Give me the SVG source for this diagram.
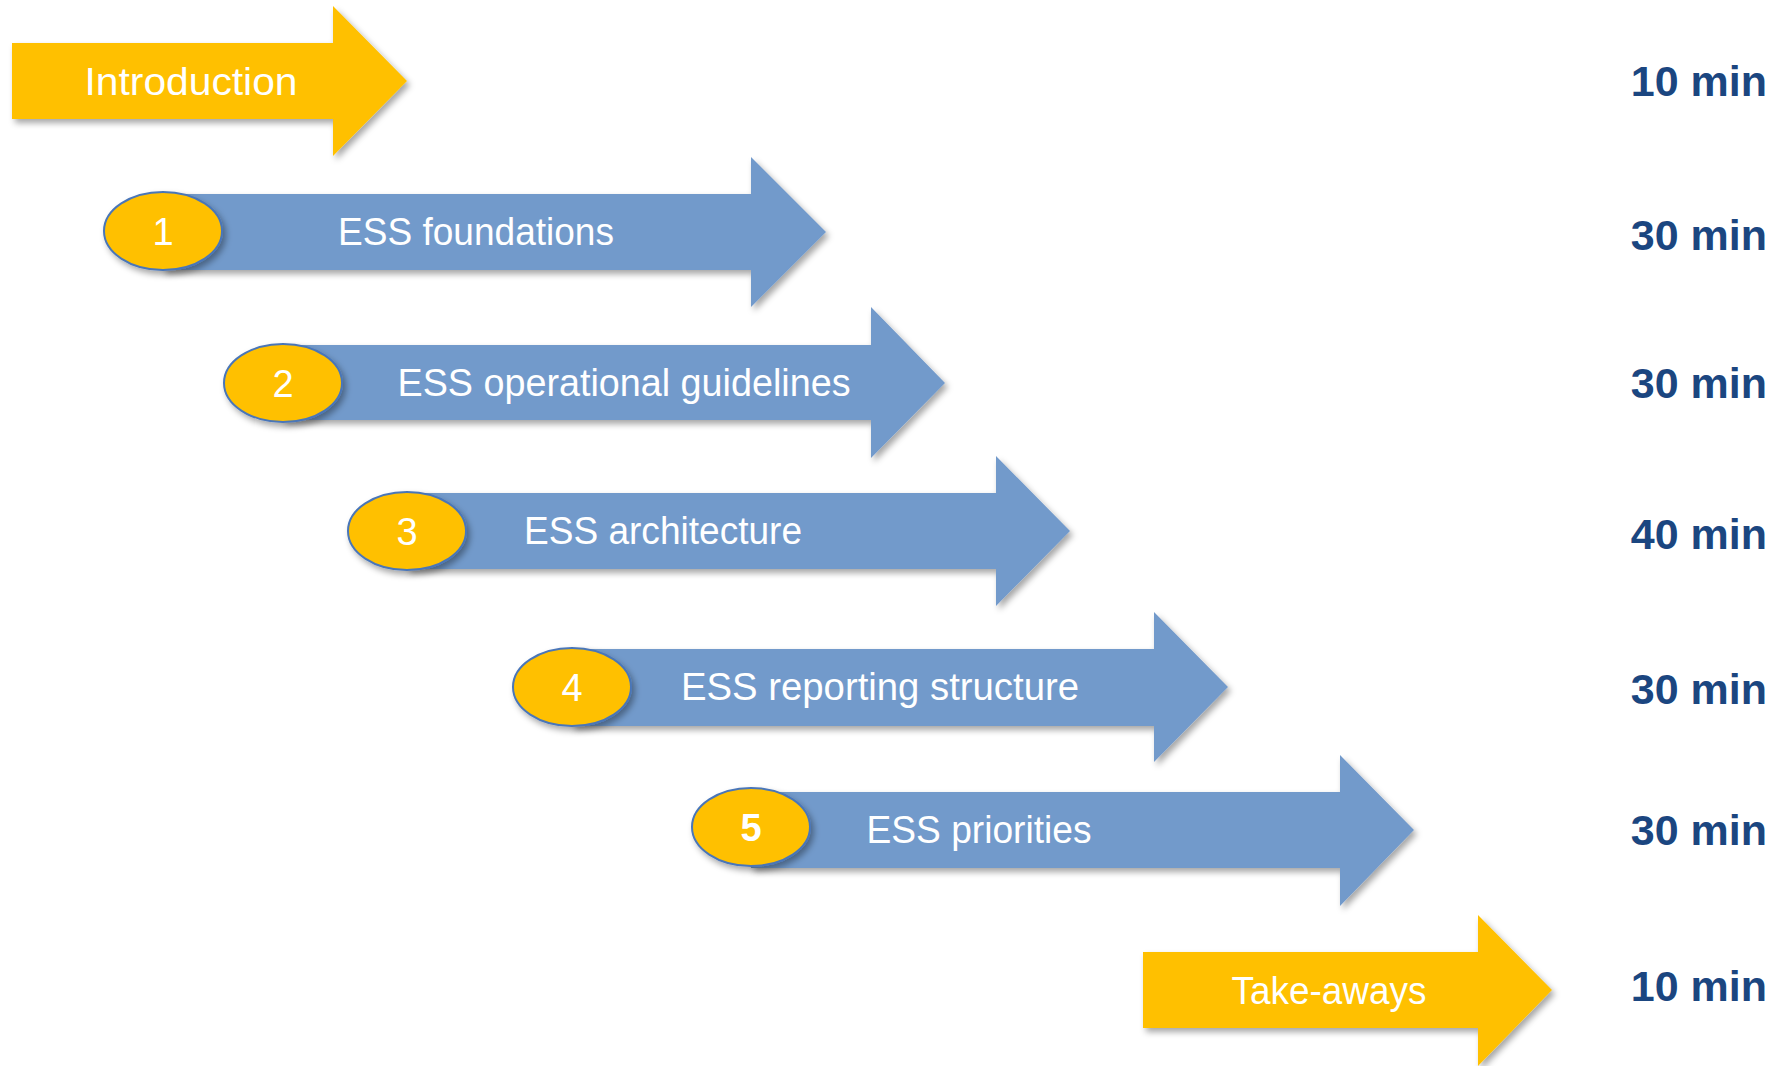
<svg xmlns="http://www.w3.org/2000/svg" width="1789" height="1066" viewBox="0 0 1789 1066">
<defs>
<filter id="sh" x="-10%" y="-20%" width="130%" height="150%">
<feDropShadow dx="3" dy="4" stdDeviation="3" flood-color="#000" flood-opacity="0.35"/>
</filter>
<style>
.y{fill:#FFC000;filter:url(#sh)}
.b{fill:#729ACB;filter:url(#sh)}
.e{fill:#FFC000;stroke:#4A76B8;stroke-width:2;filter:url(#sh)}
.lbl{font-family:"Liberation Sans",Arial,sans-serif;font-size:38px;fill:#fff;text-anchor:middle}
.num{font-family:"Liberation Sans",Arial,sans-serif;font-size:38px;fill:#fff;text-anchor:middle}
.tm{font-family:"Liberation Sans",Arial,sans-serif;font-size:43px;font-weight:bold;fill:#1B4680;text-anchor:end}
</style>
</defs>
<rect width="1789" height="1066" fill="#fff"/>
<g id="intro">
<path class="y" d="M12,43 H333 V6 L407,81 L333,156 V119 H12 Z"/>
<text class="lbl" x="191" y="95" textLength="213" lengthAdjust="spacingAndGlyphs">Introduction</text>
</g>
<g id="step1">
<path class="b" d="M163,194 H751 V157 L826,232 L751,307 V270 H163 Z"/>
<ellipse class="e" cx="163" cy="231" rx="59" ry="39"/>
<text class="num" x="163" y="245">1</text>
<text class="lbl" x="476" y="245" textLength="276" lengthAdjust="spacingAndGlyphs">ESS foundations</text>
</g>
<g id="step2">
<path class="b" d="M283,345 H871 V307 L945,383 L871,458 V420 H283 Z"/>
<ellipse class="e" cx="283" cy="383" rx="59" ry="39"/>
<text class="num" x="283" y="397">2</text>
<text class="lbl" x="624" y="396" textLength="453" lengthAdjust="spacingAndGlyphs">ESS operational guidelines</text>
</g>
<g id="step3">
<path class="b" d="M407,493 H996 V456 L1070,531 L996,606 V569 H407 Z"/>
<ellipse class="e" cx="407" cy="531" rx="59" ry="39"/>
<text class="num" x="407" y="545">3</text>
<text class="lbl" x="663" y="544" textLength="278" lengthAdjust="spacingAndGlyphs">ESS architecture</text>
</g>
<g id="step4">
<path class="b" d="M572,649 H1154 V612 L1228,687 L1154,762 V726 H572 Z"/>
<ellipse class="e" cx="572" cy="687" rx="59" ry="39"/>
<text class="num" x="572" y="701">4</text>
<text class="lbl" x="880" y="700" textLength="398" lengthAdjust="spacingAndGlyphs">ESS reporting structure</text>
</g>
<g id="step5">
<path class="b" d="M751,792 H1340 V755 L1414,830 L1340,906 V868 H751 Z"/>
<ellipse class="e" cx="751" cy="827" rx="59" ry="39"/>
<text class="num" x="751" y="841" font-weight="bold">5</text>
<text class="lbl" x="979" y="843" textLength="225" lengthAdjust="spacingAndGlyphs">ESS priorities</text>
</g>
<g id="takeaways">
<path class="y" d="M1143,952 H1478 V915 L1552,990 L1478,1066 V1028 H1143 Z"/>
<text class="lbl" x="1329" y="1004" textLength="195" lengthAdjust="spacingAndGlyphs">Take-aways</text>
</g>
<g id="times">
<text class="tm" x="1767" y="96">10 min</text>
<text class="tm" x="1767" y="250">30 min</text>
<text class="tm" x="1767" y="398">30 min</text>
<text class="tm" x="1767" y="549">40 min</text>
<text class="tm" x="1767" y="704">30 min</text>
<text class="tm" x="1767" y="845">30 min</text>
<text class="tm" x="1767" y="1001">10 min</text>
</g>
<g id="connectors"/>
</svg>
